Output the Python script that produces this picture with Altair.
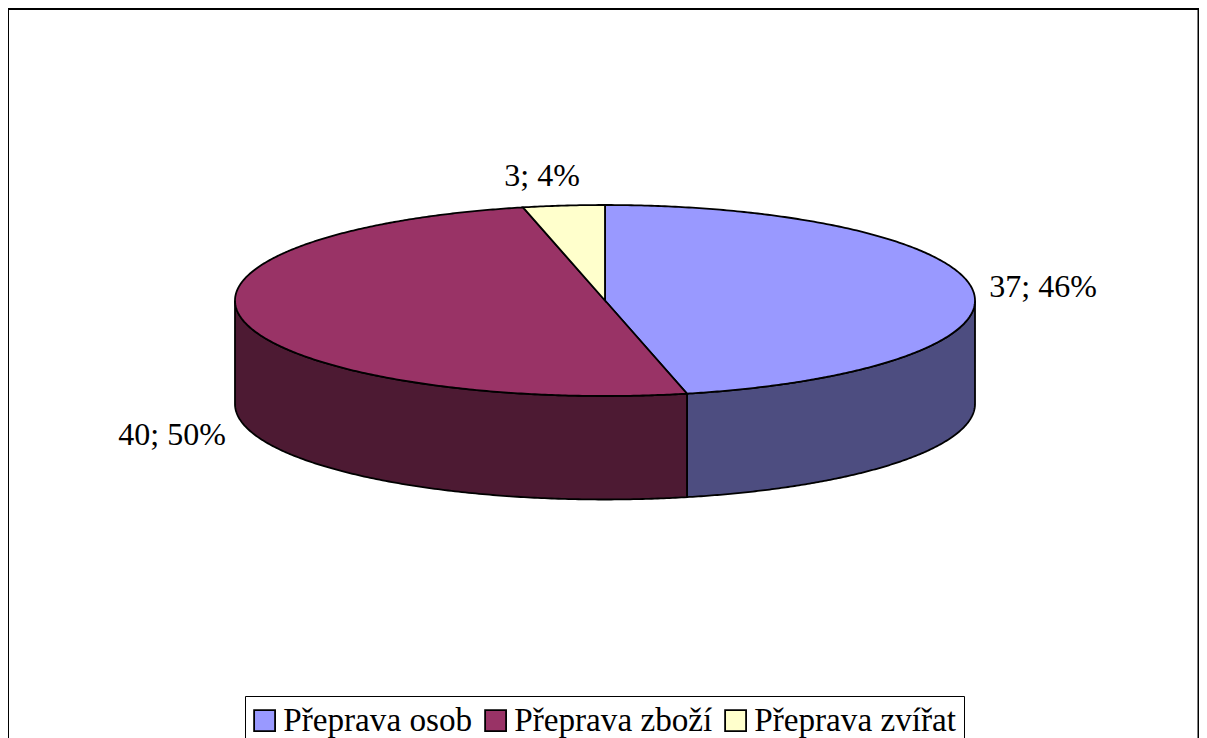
import math
import altair as alt
import pandas as pd

# chart values
categories = ["Přeprava osob", "Přeprava zboží", "Přeprava zvířat"]
counts = [37, 40, 3]
percent_labels = ["37; 46%", "40; 50%", "3; 4%"]
top_colors = ["#9999FF", "#993366", "#FFFFCC"]
side_colors = ["#4D4D80", "#4D1A33", "#808066"]

# layout (page pixels)
W, H = 1191, 730
CX, CY, RX, RY, DEPTH = 605.0, 300.5, 370.0, 95.5, 103.5
FORESHORTEN = 12.8  # degrees: perspective shift of the rim near the pie's front and back
FONT = "Liberation Serif"


def pt(deg, drop=0.0):
    # slices near front/back appear slightly narrower in the tilted view
    a = math.radians(deg + FORESHORTEN * math.sin(math.radians(deg)) ** 2)
    return CX + RX * math.sin(a), CY - RY * math.cos(a) + drop


total = sum(counts)
starts, s = [], 0.0
for c in counts:
    starts.append(s)
    s += c * 360.0 / total


def visible_limit(target):
    # parameter angle whose foreshortened position is exactly the rim's side point
    lo, hi = target - 20.0, target + 5.0
    for _ in range(60):
        mid = (lo + hi) / 2
        if mid + FORESHORTEN * math.sin(math.radians(mid)) ** 2 < target:
            lo = mid
        else:
            hi = mid
    return lo


right_edge, left_edge = visible_limit(90.0), visible_limit(270.0)

top_rows, side_rows = [], []
for i, (cat, c) in enumerate(zip(categories, counts)):
    a0, a1 = starts[i], starts[i] + c * 360.0 / total
    n = max(2, int((a1 - a0) * 2))
    k = 0
    x, y = CX, CY
    top_rows.append(dict(cat=cat, k=k, x=x, y=y))
    for j in range(n + 1):
        k += 1
        x, y = pt(a0 + (a1 - a0) * j / n)
        top_rows.append(dict(cat=cat, k=k, x=x, y=y))
    # visible wall: the part of this slice on the near half of the pie
    v0, v1 = max(a0, right_edge), min(a1, left_edge)
    if v1 > v0:
        m = int((v1 - v0) * 2)
        k = 0
        for j in range(m + 1):
            x, y = pt(v0 + (v1 - v0) * j / m)
            side_rows.append(dict(cat=cat, k=k, x=x, y=y))
            k += 1
        for j in range(m, -1, -1):
            x, y = pt(v0 + (v1 - v0) * j / m, DEPTH)
            side_rows.append(dict(cat=cat, k=k, x=x, y=y))
            k += 1

# label anchors
label_rows = pd.DataFrame({
    "label": percent_labels,
    "x": [1043.0, 172.0, 542.0],
    "y": [287.0, 435.0, 176.0],
})

xs = alt.Scale(domain=[8, 8 + W], range=[0, W])
ys = alt.Scale(domain=[8, 8 + H], range=[0, H])
X = alt.X("x:Q", scale=xs, axis=None)
Y = alt.Y("y:Q", scale=ys, axis=None)

side_df = pd.DataFrame(side_rows)
top_df = pd.DataFrame(top_rows)

sides = [
    alt.Chart(side_df[side_df.cat == cat]).mark_line(
        fill=col, stroke="black", strokeWidth=1.8, interpolate="linear-closed"
    ).encode(x=X, y=Y, order="k:Q")
    for cat, col in zip(categories, side_colors)
    if (side_df.cat == cat).any()
]

top = alt.Chart(top_df).mark_line(
    stroke="black", strokeWidth=1.8, interpolate="linear-closed"
).encode(
    x=X, y=Y, order="k:Q",
    fill=alt.Fill(
        "cat:N",
        scale=alt.Scale(domain=categories, range=top_colors),
        sort=categories,
        legend=alt.Legend(
            title=None, orient="none", direction="horizontal", columns=3,
            legendX=237, legendY=688, symbolType="square", symbolSize=440,
            symbolStrokeColor="black", symbolStrokeWidth=1.8,
            labelFont=FONT, labelFontSize=33.2, labelColor="black", labelLimit=400,
            labelOffset=2, columnPadding=8, symbolOpacity=1, symbolOffset=-5,
            strokeColor="black", fillColor="white", padding=8,
            offset=0,
        ),
    ),
)

labels = alt.Chart(label_rows).mark_text(
    font=FONT, fontSize=32, color="black", align="center", baseline="middle"
).encode(x=X, y=Y, text="label:N")

frame = alt.Chart(pd.DataFrame({"a": [0]})).mark_rect(
    fill="white", stroke="black", strokeWidth=2
).encode(x=alt.value(0), x2=alt.value(W - 0.5), y=alt.value(1), y2=alt.value(H + 20))

chart = alt.layer(frame, *sides, top, labels).properties(
    width=W, height=H, padding=0,
    autosize=alt.AutoSizeParams(type="none"),
).resolve_scale(x="shared", y="shared").configure_view(stroke=None)

chart.save("out.html", embed_options={"renderer": "svg", "actions": False})
